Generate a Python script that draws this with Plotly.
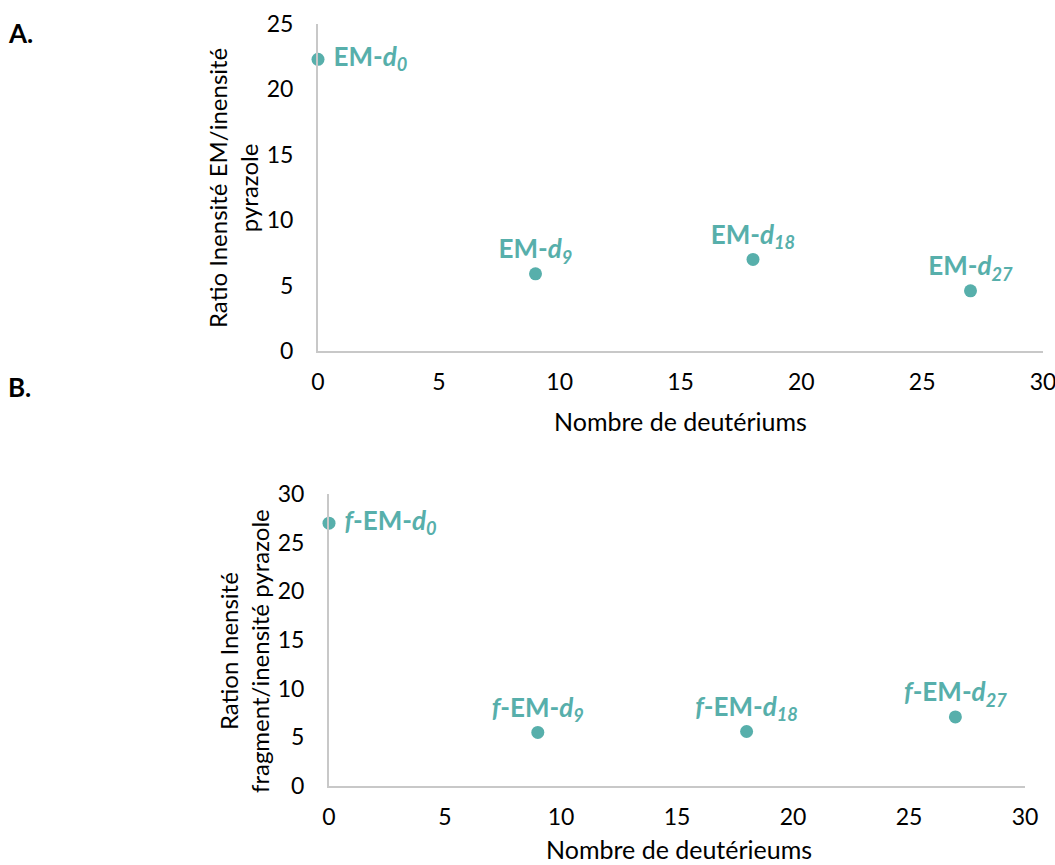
import plotly.graph_objects as go

# Data
deut_a = [0, 9, 18, 27]
ratio_a = [22.3, 5.9, 7.0, 4.6]
labels_a = ["EM-<i>d</i><sub><i>0</i></sub>", "EM-<i>d</i><sub><i>9</i></sub>",
            "EM-<i>d</i><sub><i>18</i></sub>", "EM-<i>d</i><sub><i>27</i></sub>"]
pos_a = ["middle right", "top center", "top center", "top center"]

deut_b = [0, 9, 18, 27]
ratio_b = [27.0, 5.5, 5.6, 7.1]
labels_b = ["<i>f</i>-EM-<i>d</i><sub><i>0</i></sub>", "<i>f</i>-EM-<i>d</i><sub><i>9</i></sub>",
            "<i>f</i>-EM-<i>d</i><sub><i>18</i></sub>", "<i>f</i>-EM-<i>d</i><sub><i>27</i></sub>"]
pos_b = ["middle right", "top center", "top center", "top center"]

x_ticks = [0, 5, 10, 15, 20, 25, 30]
y_ticks_a = [0, 5, 10, 15, 20, 25]
y_ticks_b = [0, 5, 10, 15, 20, 25, 30]

TEAL = "#57AFAB"
FONT = "Lato"
W, H = 1055, 865
NB = "\u00a0"

def dom_x(a, b):
    return [a / W, b / W]

def dom_y(top, bottom):
    return [1 - bottom / H, 1 - top / H]

def fmt(labels, pos):
    return ["<b>" + (NB + t if p == "middle right" else t) + "</b>" for t, p in zip(labels, pos)]

fig = go.Figure()
fig.add_trace(go.Scatter(
    x=deut_a, y=ratio_a, mode="markers+text", xaxis="x", yaxis="y",
    marker=dict(color=TEAL, size=13),
    text=fmt(labels_a, pos_a), textposition=pos_a,
    textfont=dict(color=TEAL, size=26, family=FONT), cliponaxis=False,
    showlegend=False))
fig.add_trace(go.Scatter(
    x=deut_b, y=ratio_b, mode="markers+text", xaxis="x2", yaxis="y2",
    marker=dict(color=TEAL, size=13),
    text=fmt(labels_b, pos_b), textposition=pos_b,
    textfont=dict(color=TEAL, size=26, family=FONT), cliponaxis=False,
    showlegend=False))

axis_common = dict(showgrid=False, zeroline=False, showline=True, linecolor="#C8C8C8",
                   linewidth=2, ticks="", automargin=False, ticklabeloverflow="allow",
                   tickfont=dict(size=23, color="#000", family=FONT))
xcommon = dict(axis_common, ticklabelstandoff=9)
ycommon = dict(axis_common, ticklabelstandoff=18)

fig.update_layout(
    width=W, height=H,
    margin=dict(l=0, r=0, t=0, b=0, autoexpand=False),
    paper_bgcolor="white", plot_bgcolor="white",
    font=dict(family=FONT, color="#000"),
    xaxis=dict(domain=dom_x(318, 1043), range=[0, 30], tickvals=x_ticks, anchor="y", **xcommon),
    yaxis=dict(domain=dom_y(24, 351), range=[0, 25], tickvals=y_ticks_a, anchor="x", **ycommon),
    xaxis2=dict(domain=dom_x(329, 1025), range=[0, 30], tickvals=x_ticks, anchor="y2", **xcommon),
    yaxis2=dict(domain=dom_y(494, 786), range=[0, 30], tickvals=y_ticks_b, anchor="x2", **ycommon),
)

ann = [
    dict(text="<b>A.</b>", x=6 / W, y=1 - 33 / H, xanchor="left", yanchor="middle", font=dict(size=26)),
    dict(text="<b>B.</b>", x=6 / W, y=1 - 387 / H, xanchor="left", yanchor="middle", font=dict(size=26)),
    dict(text="Nombre de deutériums", x=680 / W, y=1 - 421 / H, xanchor="center", yanchor="middle", font=dict(size=25)),
    dict(text="Nombre de deutérieums", x=679 / W, y=1 - 849 / H, xanchor="center", yanchor="middle", font=dict(size=25)),
    dict(text="Ratio Inensité EM/inensité<br>pyrazole", x=233 / W, y=1 - 188 / H, xanchor="center", yanchor="middle",
         textangle=-90, font=dict(size=24)),
    dict(text="Ration Inensité<br>fragment/inensité pyrazole", x=244 / W, y=1 - 651 / H, xanchor="center", yanchor="middle",
         textangle=-90, font=dict(size=24)),
]
for a in ann:
    a.update(xref="paper", yref="paper", showarrow=False)
fig.update_layout(annotations=ann)

fig.write_html("out.html", config={"displayModeBar": False},
               post_script="document.body.style.margin='0';document.body.style.overflow='hidden';")
